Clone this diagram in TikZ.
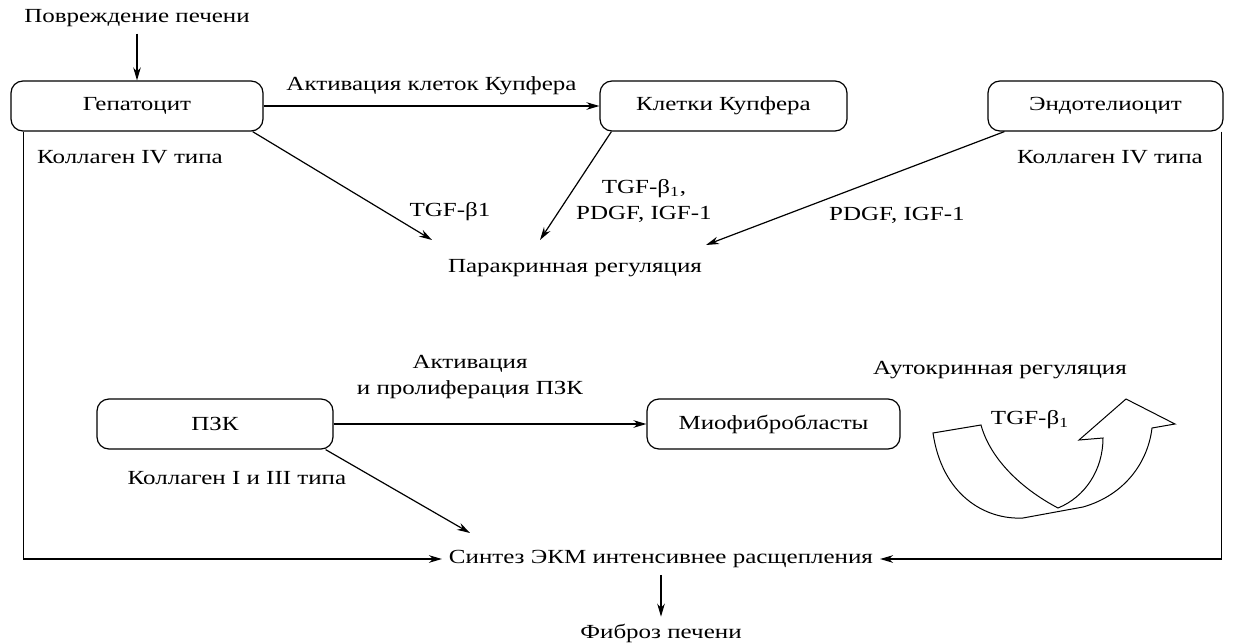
\documentclass[tikz,border=0pt]{standalone}
\usepackage{fontspec}
\setmainfont[FakeStretch=1.25]{Liberation Serif}
\usetikzlibrary{arrows.meta,positioning}

\begin{document}
\begin{tikzpicture}[x=0.5pt, y=-0.5pt,
    font=\fontsize{10}{13}\selectfont, >={Stealth[length=6.5pt,width=3.8pt]},
    every node/.style={align=center},
    cellbox/.style={rectangle, rounded corners=6pt, draw, line width=0.6pt,
      minimum height=25pt},
    arr/.style={->, line width=0.6pt},
  ]
  \useasboundingbox (0,0) rectangle (1244,643);

  % ── cells ───────────────────────────────────────────────────
  \node (injury) at (137,18) {Повреждение печени};
  \node[cellbox, minimum width=126pt] (hep) at (137,106) {Гепатоцит};
  \node[cellbox, minimum width=123.5pt] (kup) at (723.5,106) {Клетки Купфера};
  \node[cellbox, minimum width=117.5pt] (endo) at (1105.5,106) {Эндотелиоцит};
  \node (colhep) at (130,157) {Коллаген IV типа};
  \node (colendo) at (1110,157) {Коллаген IV типа};

  \node[cellbox, minimum width=118pt] (psc) at (215,424) {ПЗК};
  \node[cellbox, minimum width=126.5pt] (myo) at (773.5,424) {Миофибробласты};
  \node (colpsc) at (237,478) {Коллаген I и III типа};

  % ── regulation ──────────────────────────────────────────────
  \node (para) at (575,268) {Паракринная регуляция};
  \coordinate (parahep) at (432,240);
  \coordinate (parakup) at (540,240);
  \coordinate (paraendo) at (706,245);
  \node (lblhep) at (450,212) {TGF-β1};
  \node (lblkup) at (644,201) {TGF-β\textsubscript{1},\\PDGF, IGF-1};
  \node (lblendo) at (897,215) {PDGF, IGF-1};

  \draw[arr] (injury) -- (hep);
  \draw[arr] (hep) -- node[above=2pt] {Активация клеток Купфера} (kup);
  \draw[arr] ([xshift=-5.5pt]hep.south east) -- (parahep);
  \draw[arr] ([xshift=6pt]kup.south west) -- (parakup);
  \draw[arr] ([xshift=8.5pt]endo.south west) -- (paraendo);

  \node (lblpsc) at (470,377) {Активация\\и пролиферация ПЗК};
  \draw[arr] (psc) -- (myo);

  % ── autocrine loop ──────────────────────────────────────────
  \node (auto) at (1000,370) {Аутокринная регуляция};
  \draw[fill=white, line width=0.5pt, line join=miter]
    (933,433) .. controls (942,495) and (985,520) .. (1023,518)
    -- (1083,507) .. controls (1125,495) and (1148,462) .. (1152,428)
    -- (1175,424) -- (1126,399) -- (1079,440) -- (1103,438)
    .. controls (1103,470) and (1085,497) .. (1058,508)
    .. controls (1020,488) and (990,458) .. (981,425) -- cycle;
  \node (lblauto) at (1030,420) {TGF-β\textsubscript{1}};

  % ── ECM and fibrosis ────────────────────────────────────────
  \node (ecm) at (661,559) {Синтез ЭКМ интенсивнее расщепления};
  \node (fib) at (661,633) {Фиброз печени};
  \coordinate (ecmpsc) at (470,533);

  \draw[arr] ([xshift=-4pt]psc.south east) -- (ecmpsc);
  \draw[arr] ([xshift=6.5pt]hep.south west) |- (ecm.west);
  \draw[arr] ([xshift=-1pt]endo.south east) |- (ecm.east);
  \draw[arr] (ecm) -- (fib);

\end{tikzpicture}
\end{document}
